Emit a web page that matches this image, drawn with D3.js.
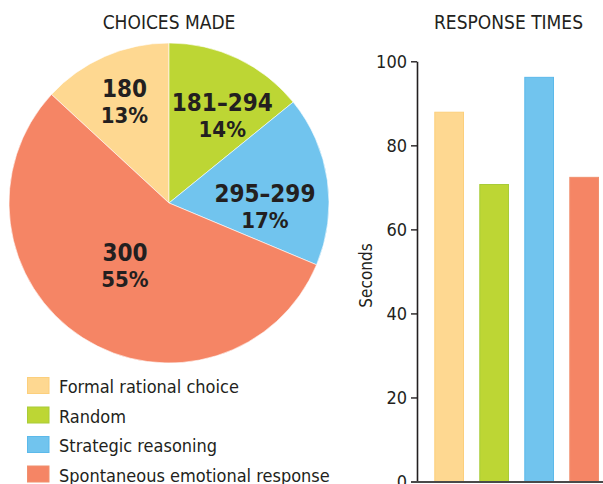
<!DOCTYPE html>
<html>
<head>
<meta charset="utf-8">
<script src="https://cdn.jsdelivr.net/npm/d3@7/dist/d3.min.js"></script>
<style>
  html, body { margin: 0; padding: 0; background: #fff; }
  svg { display: block; font-family: "DejaVu Sans Condensed", "DejaVu Sans", sans-serif; }
</style>
</head>
<body>
<svg id="chart" width="603" height="484"></svg>
<script>
// Choice categories (legend order) and their colours
const categories = ["Formal rational choice", "Random", "Strategic reasoning", "Spontaneous emotional response"];
const colors = ["#fed891", "#bdd634", "#71c4ee", "#f58565"];
const strokes = ["#fccf7c", "#a8cc38", "#5bb9ea", "#f0906f"];

// Pie: which offer was chosen, share of players
const choiceLabels = ["180", "181\u2013294", "295\u2013299", "300"];
const choiceShares = [13, 14, 17, 55];

// Bars: mean response time in seconds
const responseSeconds = [88, 70.8, 96.3, 72.5];
const yTicks = [0, 20, 40, 60, 80, 100];

const svg = d3.select("#chart");
const ink = "#231f20";

// ---------- Pie ----------
const cx = 169, cy = 203, R = 160;
const total = d3.sum(choiceShares);
const pie = d3.pie().sort(null).value(d => d)
  .startAngle(-2 * Math.PI * choiceShares[0] / total)
  .endAngle(2 * Math.PI - 2 * Math.PI * choiceShares[0] / total);
const arcs = pie(choiceShares);
const arc = d3.arc().innerRadius(0).outerRadius(R);

const pieG = svg.append("g").attr("transform", `translate(${cx},${cy})`);
pieG.selectAll("path").data(arcs).join("path")
  .attr("d", arc)
  .attr("fill", (d, i) => colors[i])
  .attr("stroke", "#fff")
  .attr("stroke-width", 0.6);

// label placement: radius and angular nudge (degrees) for each slice
const labelPlace = [{ r: 111, da: 0 }, { r: 103, da: 5.7 }, { r: 96, da: 10 }, { r: 76, da: 2.7 }];
arcs.forEach((a, i) => {
  const mid = (a.startAngle + a.endAngle) / 2 + labelPlace[i].da * Math.PI / 180;
  const x = Math.sin(mid) * labelPlace[i].r;
  const y = -Math.cos(mid) * labelPlace[i].r;
  const t = pieG.append("g").attr("transform", `translate(${x},${y})`)
    .attr("text-anchor", "middle").attr("fill", ink).attr("font-weight", "bold");
  t.append("text").attr("y", -4.3).attr("font-size", 24).text(choiceLabels[i]);
  t.append("text").attr("y", 21.7).attr("font-size", 22).text(Math.round(a.value) + "%");
});

svg.append("text").attr("x", 169).attr("y", 28.5).attr("text-anchor", "middle")
  .attr("font-size", 19).attr("fill", ink).text("CHOICES MADE");

// ---------- Legend ----------
const legend = svg.append("g").attr("transform", "translate(27,377)");
const rowH = 29.5;
categories.forEach((c, i) => {
  const row = legend.append("g").attr("transform", `translate(0,${i * rowH})`);
  row.append("rect").attr("x", 0.5).attr("y", 0.5).attr("width", 21.5).attr("height", 16)
    .attr("fill", colors[i]).attr("stroke", strokes[i]).attr("stroke-width", 1);
  row.append("text").attr("x", 32).attr("y", 16).attr("font-size", 18)
    .attr("fill", ink).text(c);
});

// ---------- Bars ----------
const y = d3.scaleLinear().domain([0, 100]).range([481.5, 61.3]);
const x = d3.scaleBand().domain(categories).range([426.65, 606.65])
  .paddingInner(0.34).paddingOuter(0.17);

svg.append("text").attr("x", 508.5).attr("y", 28.5).attr("text-anchor", "middle")
  .attr("font-size", 19).attr("fill", ink).text("RESPONSE TIMES");

svg.append("g").selectAll("rect").data(responseSeconds).join("rect")
  .attr("x", (d, i) => x(categories[i]) + 0.5)
  .attr("y", d => y(d) + 0.5)
  .attr("width", x.bandwidth() - 1)
  .attr("height", d => y(0) - y(d))
  .attr("fill", (d, i) => colors[i])
  .attr("stroke", (d, i) => strokes[i])
  .attr("stroke-width", 1);

const yAxis = svg.append("g").attr("transform", "translate(417,0)")
  .call(d3.axisLeft(y).tickValues(yTicks).tickSize(6).tickPadding(4).tickSizeOuter(0));
yAxis.select(".domain").attr("stroke", ink).attr("stroke-width", 1.6);
yAxis.selectAll(".tick line").attr("stroke", ink).attr("stroke-width", 1.4);
yAxis.selectAll(".tick text").attr("fill", ink).attr("font-size", 18)
  .attr("font-family", "DejaVu Sans Condensed, DejaVu Sans, sans-serif");

// baseline under the bars
svg.append("line").attr("x1", 411).attr("x2", 603)
  .attr("y1", y(0) + 0.5).attr("y2", y(0) + 0.5)
  .attr("stroke", "#4a4a4a").attr("stroke-width", 2);

svg.append("text").attr("transform", `translate(372,275.5) rotate(-90)`)
  .attr("text-anchor", "middle").attr("font-size", 17).attr("fill", ink).text("Seconds");
</script>
</body>
</html>
